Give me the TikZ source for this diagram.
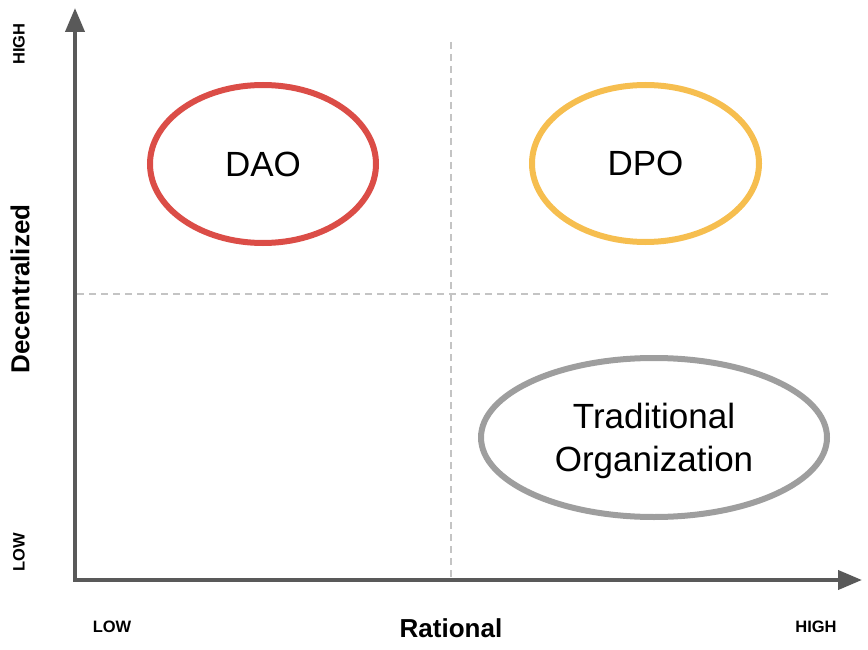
\documentclass[tikz,border=0pt]{standalone}
\usepackage{fontspec}
\setmainfont{Liberation Sans}
\usetikzlibrary{arrows.meta,shapes.geometric}
\definecolor{axisgray}{HTML}{595959}
\definecolor{dashgray}{HTML}{C4C4C4}
\definecolor{daored}{HTML}{DB4D47}
\definecolor{dpoyellow}{HTML}{F6BE4F}
\definecolor{tradgray}{HTML}{9E9E9E}
\tikzset{
  axisline/.style={draw=axisgray, line width=4pt, line join=miter},
  guide/.style={draw=dashgray, line width=1.5pt, dash pattern=on 7pt off 5pt},
  bubble/.style={ellipse, draw, line width=6pt, inner sep=0pt, align=center,
                 font=\fontsize{35}{42.5}\selectfont},
  smalllab/.style={font=\fontsize{16.5}{19}\selectfont\bfseries, inner sep=0pt},
  biglab/.style={font=\fontsize{26}{30}\selectfont\bfseries, inner sep=0pt}
}
\begin{document}
\begin{tikzpicture}[x=1pt,y=-1pt]
\useasboundingbox (0,0) rectangle (868,650);
% coordinates
\coordinate (ytop) at (75,8);
\coordinate (origin) at (75,580);
\coordinate (xend) at (862,580);
\coordinate (vtop) at (451,42);
\coordinate (vbot) at (451,578);
\coordinate (hleft) at (77,294);
\coordinate (hright) at (828,294);
% guides
\draw[guide] (vtop) -- (vbot);
\draw[guide] (hleft) -- (hright);
% axes
\draw[axisline, {Triangle[length=24pt,width=19pt]}-{Triangle[length=24pt,width=19pt]}]
  (ytop) -- (origin) -- (xend);
% bubbles
\node[bubble, draw=daored, minimum width=226pt, minimum height=158pt] (dao) at (263,164) {DAO};
\node[bubble, draw=dpoyellow, minimum width=227pt, minimum height=157pt] (dpo) at (645.5,163.5) {DPO};
\node[bubble, draw=tradgray, minimum width=346pt, minimum height=159pt] (trad) at (654,437.5) {};
\node[bubble, draw=none, inner sep=0pt] (tradtext) at (654,441) {Traditional\\Organization};
% labels
\node[smalllab, rotate=90] (yhigh) at (19,44) {HIGH};
\node[smalllab, rotate=90] (ylow) at (19,552) {LOW};
\node[biglab, rotate=90] (ylab) at (20,289) {Decentralized};
\node[smalllab] (xlow) at (112,627) {LOW};
\node[biglab] (xlab) at (451,628) {Rational};
\node[smalllab] (xhigh) at (816,627) {HIGH};
\end{tikzpicture}
\end{document}
